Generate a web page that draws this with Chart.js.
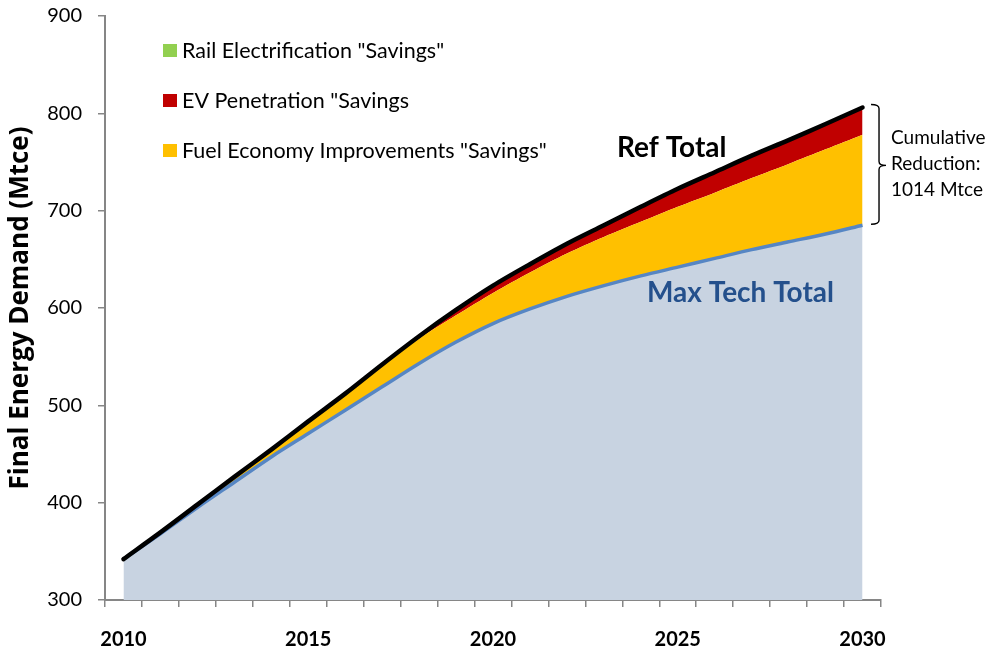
<!DOCTYPE html>
<html>
<head>
<meta charset="utf-8">
<title>Final Energy Demand</title>
<script src="https://cdn.jsdelivr.net/npm/chart.js@4.4.1/dist/chart.umd.min.js"></script>
<style>
  html, body { margin: 0; padding: 0; background: #fff; }
  #wrap { width: 994px; height: 654px; position: relative; }
</style>
</head>
<body>
<div id="wrap"><canvas id="demandChart"></canvas></div>
<script>
const years = ['2010', '2011', '2012', '2013', '2014', '2015', '2016', '2017', '2018', '2019', '2020',
               '2021', '2022', '2023', '2024', '2025', '2026', '2027', '2028', '2029', '2030'];

// Mtce per year
const maxTechTotal = [342, 368, 395, 421, 447, 471, 495, 519, 543, 565, 584, 599, 612, 623, 633, 642, 651, 660, 668, 676, 685];
const fuelEconomySavings = [0, 1.5, 3, 5.5, 7.5, 12, 16, 21.5, 25.5, 27.5, 31.5, 37.5, 44, 50, 55.5, 62, 67.5, 73.5, 80, 87, 93];
const evSavings = [0, 0, 0, 0, 0, 0, 0.5, 1, 2, 5, 7, 8, 9.5, 11.5, 14.5, 17.5, 20, 22, 23.5, 25, 27];
const railSavings = [0, 0, 0, 0, 0, 0.5, 0.5, 0.5, 0.5, 0.5, 0.5, 0.5, 0.5, 0.5, 1, 1, 1, 1, 1, 1, 1];
const refTotal = [342, 369.5, 398, 426.5, 454.5, 483.5, 512, 542, 571, 598, 623, 645, 666, 685, 704, 722.5, 739.5, 756.5, 772.5, 789, 806];

const yTicks = [300, 400, 500, 600, 700, 800, 900];

const COLORS = {
  maxTechFill: '#c8d3e1',
  maxTechLine: '#5686c4',
  fuel: '#ffc000',
  ev: '#c00000',
  rail: '#92d050',
  ref: '#000000',
  axis: '#868686'
};

const legendItems = [
  { label: 'Rail Electrification "Savings"', color: COLORS.rail },
  { label: 'EV Penetration "Savings', color: COLORS.ev },
  { label: 'Fuel Economy Improvements "Savings"', color: COLORS.fuel }
];

// legend, series labels and the bracket on the right
const overlayPlugin = {
  id: 'overlay',
  afterDraw(chart) {
    const { ctx, chartArea, scales } = chart;
    const x = scales.x, y = scales.y;
    ctx.save();

    ctx.textBaseline = 'middle';
    ctx.font = '21.5px Lato';
    legendItems.forEach((item, i) => {
      const cy = chartArea.top + 35 + i * 50;
      ctx.fillStyle = item.color;
      ctx.fillRect(chartArea.left + 58, cy - 7, 14, 13);
      ctx.fillStyle = '#000';
      ctx.fillText(item.label, chartArea.left + 77, cy);
    });

    ctx.font = 'bold 28px Lato';
    ctx.fillStyle = '#000';
    ctx.fillText('Ref Total', 617, 148);
    ctx.fillStyle = '#24508c';
    ctx.fillText('Max Tech Total', 647, 293);

    // bracket spanning the 2030 gap
    const last = years.length - 1;
    const bx = x.getPixelForValue(last) + 16.5;
    const top = y.getPixelForValue(refTotal[last]) - 3;
    const bottom = y.getPixelForValue(maxTechTotal[last]) - 1;
    const mid = (top + bottom) / 2 + 1;
    ctx.strokeStyle = '#000';
    ctx.lineWidth = 1.4;
    ctx.beginPath();
    ctx.moveTo(bx - 8, top);
    ctx.quadraticCurveTo(bx, top, bx, top + 4);
    ctx.lineTo(bx, mid - 4);
    ctx.quadraticCurveTo(bx, mid, bx + 7, mid);
    ctx.moveTo(bx + 7, mid);
    ctx.quadraticCurveTo(bx, mid, bx, mid + 4);
    ctx.lineTo(bx, bottom - 4);
    ctx.quadraticCurveTo(bx, bottom, bx - 8, bottom);
    ctx.stroke();

    ctx.font = '19px Lato';
    ctx.fillStyle = '#000';
    ['Cumulative', 'Reduction:', '1014 Mtce'].forEach((line, i) => {
      ctx.fillText(line, bx + 12, mid - 28 + i * 26);
    });

    ctx.restore();
  }
};

const ctx = document.getElementById('demandChart').getContext('2d');

new Chart(ctx, {
  type: 'line',
  data: {
    labels: years,
    datasets: [
      {
        label: 'Ref Total',
        data: refTotal,
        stack: 'ref',
        borderColor: COLORS.ref,
        borderWidth: 4.5,
        borderCapStyle: 'round',
        fill: false,
        pointRadius: 0,
        tension: 0.3
      },
      {
        label: 'Max Tech Total',
        data: maxTechTotal,
        stack: 'demand',
        borderColor: COLORS.maxTechLine,
        backgroundColor: COLORS.maxTechFill,
        borderWidth: 3.5,
        fill: 'start',
        pointRadius: 0,
        tension: 0.3
      },
      {
        label: 'Fuel Economy Improvements "Savings"',
        data: fuelEconomySavings,
        stack: 'demand',
        borderWidth: 0,
        borderColor: COLORS.fuel,
        backgroundColor: COLORS.fuel,
        fill: '-1',
        pointRadius: 0,
        tension: 0.3
      },
      {
        label: 'EV Penetration "Savings',
        data: evSavings,
        stack: 'demand',
        borderWidth: 0,
        borderColor: COLORS.ev,
        backgroundColor: COLORS.ev,
        fill: '-1',
        pointRadius: 0,
        tension: 0.3
      },
      {
        label: 'Rail Electrification "Savings"',
        data: railSavings,
        stack: 'demand',
        borderWidth: 0,
        borderColor: COLORS.rail,
        backgroundColor: COLORS.rail,
        fill: '-1',
        pointRadius: 0,
        tension: 0.3
      }
    ]
  },
  options: {
    responsive: true,
    maintainAspectRatio: false,
    animation: false,
    layout: { padding: { top: 16, right: 113, left: 0, bottom: 0 } },
    plugins: {
      legend: { display: false },
      tooltip: { enabled: false }
    },
    scales: {
      x: {
        offset: true,
        grid: {
          offset: true,
          drawOnChartArea: false,
          color: COLORS.axis,
          tickLength: 7,
          lineWidth: 1.5
        },
        border: { color: COLORS.axis, width: 2 },
        ticks: {
          autoSkip: false,
          maxRotation: 0,
          padding: 21,
          color: '#000',
          font: { family: 'Lato', size: 20, weight: 'bold' },
          callback: (value, index) => (Number(years[index]) % 5 === 0 ? years[index] : '')
        },
        afterFit: scale => { scale.height = 54; }
      },
      y: {
        stacked: true,
        min: 300,
        max: 900,
        afterBuildTicks: scale => { scale.ticks = yTicks.map(v => ({ value: v })); },
        grid: {
          drawOnChartArea: false,
          color: COLORS.axis,
          tickLength: 7,
          lineWidth: 1.5
        },
        border: { color: COLORS.axis, width: 2 },
        ticks: {
          padding: 16,
          color: '#000',
          font: { family: 'Lato', size: 20 }
        },
        title: {
          display: true,
          text: 'Final Energy Demand (Mtce)',
          color: '#000',
          font: { family: 'Open Sans', size: 26, weight: 'bold' },
          padding: { top: 5, bottom: 0 }
        },
        afterFit: scale => {
          scale.width = 105;
          scale.paddingTop = 0;
          scale.paddingBottom = 0;
        }
      }
    }
  },
  plugins: [overlayPlugin]
});
</script>
</body>
</html>
